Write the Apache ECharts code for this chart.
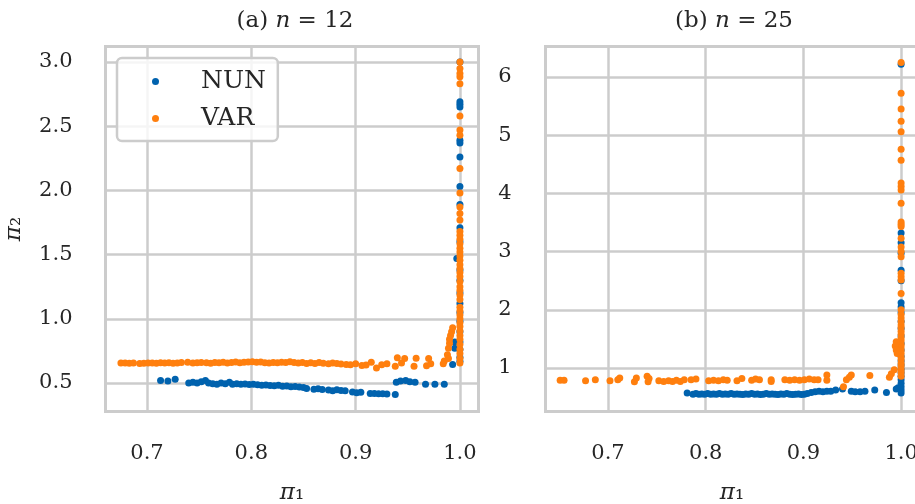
<!DOCTYPE html>
<html>
<head>
<meta charset="utf-8">
<script src="https://cdn.jsdelivr.net/npm/echarts@6/dist/echarts.min.js"></script>
<style>html,body{margin:0;padding:0;background:#fff}#c{width:915px;height:504px}</style>
</head>
<body>
<div id="c"></div>
<script>
// ---- data ----
const xTicks12 = [0.7, 0.8, 0.9, 1.0];
const yTicks12 = [0.5, 1.0, 1.5, 2.0, 2.5, 3.0];
const xTicks25 = [0.7, 0.8, 0.9, 1.0];
const yTicks25 = [1, 2, 3, 4, 5, 6];

const nun12 = [
[0.713,0.52],[0.720,0.515],[0.727,0.53],
[0.740,0.50],[0.744,0.505],[0.748,0.50],[0.752,0.51],[0.756,0.52],[0.759,0.50],[0.763,0.495],[0.767,0.49],[0.771,0.50],[0.775,0.495],[0.779,0.505],[0.782,0.49],[0.786,0.495],[0.790,0.49],[0.794,0.492],[0.798,0.488],[0.802,0.49],[0.806,0.486],[0.810,0.482],[0.814,0.485],[0.818,0.48],[0.822,0.478],[0.826,0.482],[0.830,0.474],[0.834,0.477],[0.838,0.47],[0.842,0.472],[0.846,0.468],[0.850,0.465],[0.853,0.458],[0.860,0.452],[0.864,0.455],[0.868,0.45],[0.874,0.445],[0.878,0.44],[0.882,0.447],[0.886,0.442],[0.890,0.44],[0.897,0.43],[0.901,0.425],[0.905,0.428],[0.914,0.418],[0.918,0.418],[0.922,0.417],[0.926,0.416],[0.930,0.415],[0.938,0.41],
[0.939,0.505],[0.943,0.515],[0.948,0.52],[0.952,0.51],[0.957,0.505],[0.967,0.49],[0.976,0.49],[0.985,0.49],
[0.993,0.645],[0.995,0.82],[0.995,0.77],[0.997,1.47],
[1.0,3.0],[1.0,2.69],[1.0,2.67],[1.0,2.65],[1.0,2.39],[1.0,2.37],[1.0,2.26],[1.0,2.03],[1.0,1.89],[1.0,1.71],[1.0,1.6],[1.0,1.38],[1.0,1.3],[1.0,1.2],[1.0,1.12],[1.0,1.05],[1.0,0.98],[1.0,0.9],[1.0,0.82],[1.0,0.76],[1.0,0.7],[1.0,0.67]
];

const var12 = [
[0.675,0.655],[0.679,0.656],[0.683,0.654],[0.687,0.655],[0.693,0.652],[0.697,0.654],[0.701,0.656],[0.705,0.655],[0.709,0.653],[0.713,0.657],[0.717,0.655],[0.721,0.658],[0.725,0.654],[0.729,0.656],[0.733,0.659],[0.739,0.661],[0.744,0.655],[0.748,0.657],[0.752,0.66],[0.757,0.658],[0.761,0.654],[0.765,0.66],[0.769,0.657],[0.773,0.661],[0.777,0.656],[0.781,0.66],[0.785,0.663],[0.789,0.658],[0.793,0.662],[0.797,0.664],[0.801,0.666],[0.805,0.661],[0.809,0.664],[0.813,0.658],[0.817,0.655],[0.821,0.66],[0.825,0.657],[0.829,0.662],[0.833,0.66],[0.837,0.665],[0.841,0.659],[0.845,0.655],[0.849,0.659],[0.853,0.652],[0.857,0.657],[0.861,0.652],[0.865,0.66],[0.869,0.654],[0.874,0.649],[0.878,0.656],[0.882,0.651],[0.886,0.647],[0.891,0.644],[0.895,0.643],[0.900,0.65],[0.906,0.636],[0.910,0.64],[0.915,0.662],[0.920,0.617],[0.925,0.643],[0.930,0.65],[0.938,0.63],[0.940,0.697],[0.944,0.655],[0.947,0.69],[0.958,0.693],[0.956,0.63],[0.970,0.69],[0.968,0.635],[0.972,0.65],[0.985,0.672],[0.984,0.65],
[0.988,0.72],[0.989,0.77],[0.990,0.81],[0.990,0.84],[0.991,0.87],[0.992,0.90],[0.993,0.93],[0.989,0.69],
[1.0,3.0],[1.0,2.95],[1.0,2.91],[1.0,2.885],[1.0,2.83],[1.0,2.58],[1.0,2.47],[1.0,2.43],[1.0,2.17],[1.0,1.98],[1.0,1.87],[1.0,1.82],[1.0,1.77],[1.0,1.68],[1.0,1.65],[1.0,1.62],[1.0,1.585],[1.0,1.55],[1.0,1.52],[1.0,1.49],[1.0,1.455],[1.0,1.42],[1.0,1.39],[1.0,1.36],[1.0,1.33],[1.0,1.29],[1.0,1.25],[1.0,1.22],[1.0,1.185],[1.0,1.15],[1.0,1.09],[1.0,1.06],[1.0,1.03],[1.0,1.0],[1.0,0.97],[1.0,0.94],[1.0,0.905],[1.0,0.87],[1.0,0.84],[1.0,0.8],[1.0,0.76],[1.0,0.73],[1.0,0.69],[1.0,0.655]
];

const nun25 = [
[0.781,0.57],[0.787,0.55],[0.790,0.56],[0.793,0.55],[0.796,0.555],[0.799,0.55],[0.802,0.56],[0.805,0.55],[0.808,0.555],[0.811,0.55],[0.814,0.56],[0.817,0.55],[0.820,0.555],[0.823,0.55],[0.826,0.56],[0.829,0.55],[0.832,0.555],[0.835,0.55],[0.838,0.545],[0.841,0.555],[0.844,0.55],[0.847,0.56],[0.850,0.55],[0.853,0.555],[0.856,0.545],[0.859,0.55],[0.862,0.56],[0.865,0.55],[0.868,0.555],[0.871,0.55],[0.874,0.545],[0.877,0.555],[0.880,0.55],[0.883,0.56],[0.886,0.55],[0.889,0.545],[0.892,0.55],[0.895,0.555],[0.898,0.545],[0.901,0.55],[0.904,0.56],
[0.908,0.58],[0.912,0.59],[0.916,0.60],[0.920,0.59],[0.924,0.60],[0.928,0.60],[0.933,0.62],[0.940,0.64],[0.949,0.60],[0.953,0.59],[0.958,0.59],[0.963,0.60],[0.973,0.62],[0.985,0.58],[0.995,0.64],[0.997,0.66],
[1.0,0.57],[1.0,0.62],[1.0,0.68],[1.0,0.74],[1.0,0.80],[1.0,0.86],[1.0,0.92],[1.0,0.98],[1.0,1.05],[1.0,1.12],[1.0,1.20],[1.0,1.31],[1.0,1.42],[1.0,1.55],[1.0,1.68],[1.0,1.80],[1.0,1.95],[1.0,2.05],[1.0,2.12],[1.0,2.50],[1.0,2.68],[1.0,2.97],[1.0,3.15],[1.0,3.32],[1.0,6.22]
];

const var25 = [
[0.651,0.79],[0.655,0.79],[0.677,0.78],[0.687,0.80],[0.702,0.78],[0.710,0.80],[0.712,0.83],[0.727,0.765],[0.729,0.83],[0.740,0.86],[0.741,0.765],[0.742,0.82],[0.752,0.78],[0.757,0.77],[0.762,0.78],[0.766,0.77],[0.770,0.79],[0.774,0.77],[0.778,0.80],[0.785,0.80],[0.790,0.81],[0.803,0.78],[0.808,0.79],[0.813,0.78],[0.818,0.80],[0.822,0.79],[0.832,0.78],[0.837,0.82],[0.847,0.79],[0.851,0.81],[0.855,0.80],[0.867,0.80],[0.867,0.77],[0.881,0.80],[0.886,0.79],[0.891,0.80],[0.896,0.79],[0.901,0.80],[0.906,0.81],[0.911,0.80],[0.915,0.80],[0.924,0.88],[0.924,0.79],[0.941,0.68],[0.944,0.80],[0.947,0.84],[0.949,0.88],[0.968,0.87],[0.988,0.84],[0.990,0.90],[0.993,0.97],
[1.0,6.25],[1.0,5.72],[1.0,5.45],[1.0,5.24],[1.0,5.06],[1.0,4.76],[1.0,4.57],[1.0,4.18],[1.0,4.12],[1.0,4.06],[1.0,3.83],[1.0,3.51],[1.0,3.47],[1.0,3.43],[1.0,3.23],[1.0,3.08],[1.0,3.0],[1.0,2.91],[1.0,2.63],[1.0,2.57],[1.0,2.51],[1.0,2.28],[1.0,2.0],[1.0,1.92],[1.0,1.86],[1.0,1.8],[1.0,1.74],[1.0,1.69],[1.0,1.63],[1.0,1.58],[1.0,1.52],[1.0,1.47],[1.0,1.41],[1.0,1.36],[1.0,1.3],[1.0,1.25],[1.0,1.19],[1.0,1.14],[1.0,1.08],[1.0,1.03],[1.0,0.97],[1.0,0.92],[1.0,0.86],
[0.995,1.45],[0.994,1.38],[0.995,1.31],[0.996,1.25]
];

// ---- styling ----
const FONT = 'DejaVu Serif';
const TXT = '#262626';
const GRIDC = '#cccccc';
const BLUE = '#0062ae';
const ORANGE = '#ff7f0e';
const SYM = 7;

const chart = echarts.init(document.getElementById('c'), null, {renderer: 'canvas'});

function gridSeries(xi, xt, yt) {
  return {
    type: 'scatter', xAxisIndex: xi, yAxisIndex: xi, data: [], z: 1, silent: true,
    markLine: {
      z: 1,
      silent: true, symbol: ['none', 'none'], animation: false,
      label: {show: false},
      lineStyle: {color: GRIDC, width: 2.5, type: 'solid'},
      emphasis: {disabled: true},
      data: xt.map(v => ({xAxis: v})).concat(yt.map(v => ({yAxis: v})))
    }
  };
}

const axisCommon = {
  axisLine: {show: false}, axisTick: {show: false}, splitLine: {show: false}
};
const nameStyle = {fontFamily: FONT, fontSize: 23, color: TXT,
  rich: {p: {fontFamily: FONT, fontSize: 23, fontStyle: 'italic', color: TXT}}};
const titleStyle = {fontFamily: FONT, fontSize: 23, fontWeight: 'normal', color: TXT,
  rich: {i: {fontFamily: FONT, fontSize: 23, fontStyle: 'italic', color: TXT}}};
const labelStyle = {fontFamily: FONT, fontSize: 21, color: TXT};

chart.setOption({
  animation: false,
  backgroundColor: '#ffffff',
  title: [
    {text: '(a) {i|n} = 12', left: 290, top: 5, textAlign: 'center', textStyle: titleStyle},
    {text: '(b) {i|n} = 25', left: 729, top: 5, textAlign: 'center', textStyle: titleStyle}
  ],
  legend: {
    data: [{name: 'NUN', icon: 'circle'}, {name: 'VAR', icon: 'circle'}],
    orient: 'vertical', left: 117, top: 58, z: 10,
    padding: [11, 12, 10, 35],
    itemWidth: 7, itemHeight: 7, itemGap: 12,
    formatter: n => '{g| }' + n,
    backgroundColor: 'rgba(255,255,255,0.8)',
    borderColor: GRIDC, borderWidth: 2.5, borderRadius: 5,
    textStyle: {fontFamily: FONT, fontSize: 25, color: TXT, lineHeight: 25,
      rich: {g: {width: 37, fontSize: 25}}},
    selectedMode: false
  },
  grid: [
    {left: 105.5, top: 46.5, width: 373, height: 365, show: true, borderColor: GRIDC, borderWidth: 3, backgroundColor: 'transparent', outerBoundsMode: 'none', containLabel: false},
    {left: 545.5, top: 46.5, width: 373, height: 365, show: true, borderColor: GRIDC, borderWidth: 3, backgroundColor: 'transparent', outerBoundsMode: 'none', containLabel: false}
  ],
  xAxis: [
    Object.assign({type: 'value', gridIndex: 0, min: 0.6602, max: 1.0178,
      name: '{p|π}₁', nameLocation: 'middle', nameGap: 70, nameTextStyle: nameStyle,
      axisLabel: Object.assign({customValues: xTicks12, formatter: v => v.toFixed(1), margin: 32}, labelStyle)}, axisCommon),
    Object.assign({type: 'value', gridIndex: 1, min: 0.636, max: 1.0178,
      name: '{p|π}₁', nameLocation: 'middle', nameGap: 70, nameTextStyle: nameStyle,
      axisLabel: Object.assign({customValues: xTicks25, formatter: v => v.toFixed(1), margin: 32}, labelStyle)}, axisCommon)
  ],
  yAxis: [
    Object.assign({type: 'value', gridIndex: 0, min: 0.278, max: 3.1207,
      name: '{p|π}₂', nameLocation: 'middle', nameGap: 80, nameRotate: 90, nameTextStyle: nameStyle,
      axisLabel: Object.assign({customValues: yTicks12, formatter: v => v.toFixed(1), margin: 33}, labelStyle)}, axisCommon),
    Object.assign({type: 'value', gridIndex: 1, min: 0.2526, max: 6.524,
      axisLabel: Object.assign({customValues: yTicks25, formatter: v => String(Math.round(v)), margin: 34}, labelStyle)}, axisCommon)
  ],
  series: [
    gridSeries(0, xTicks12, yTicks12),
    gridSeries(1, xTicks25, yTicks25),
    {name: 'NUN', type: 'scatter', xAxisIndex: 0, yAxisIndex: 0, data: nun12, symbolSize: SYM, itemStyle: {color: BLUE, opacity: 1}, z: 3},
    {name: 'VAR', type: 'scatter', xAxisIndex: 0, yAxisIndex: 0, data: var12, symbolSize: SYM, itemStyle: {color: ORANGE, opacity: 1}, z: 4},
    {name: 'NUN', type: 'scatter', xAxisIndex: 1, yAxisIndex: 1, data: nun25, symbolSize: SYM, itemStyle: {color: BLUE, opacity: 1}, z: 3},
    {name: 'VAR', type: 'scatter', xAxisIndex: 1, yAxisIndex: 1, data: var25, symbolSize: SYM, itemStyle: {color: ORANGE, opacity: 1}, z: 4}
  ]
});
</script>
</body>
</html>
